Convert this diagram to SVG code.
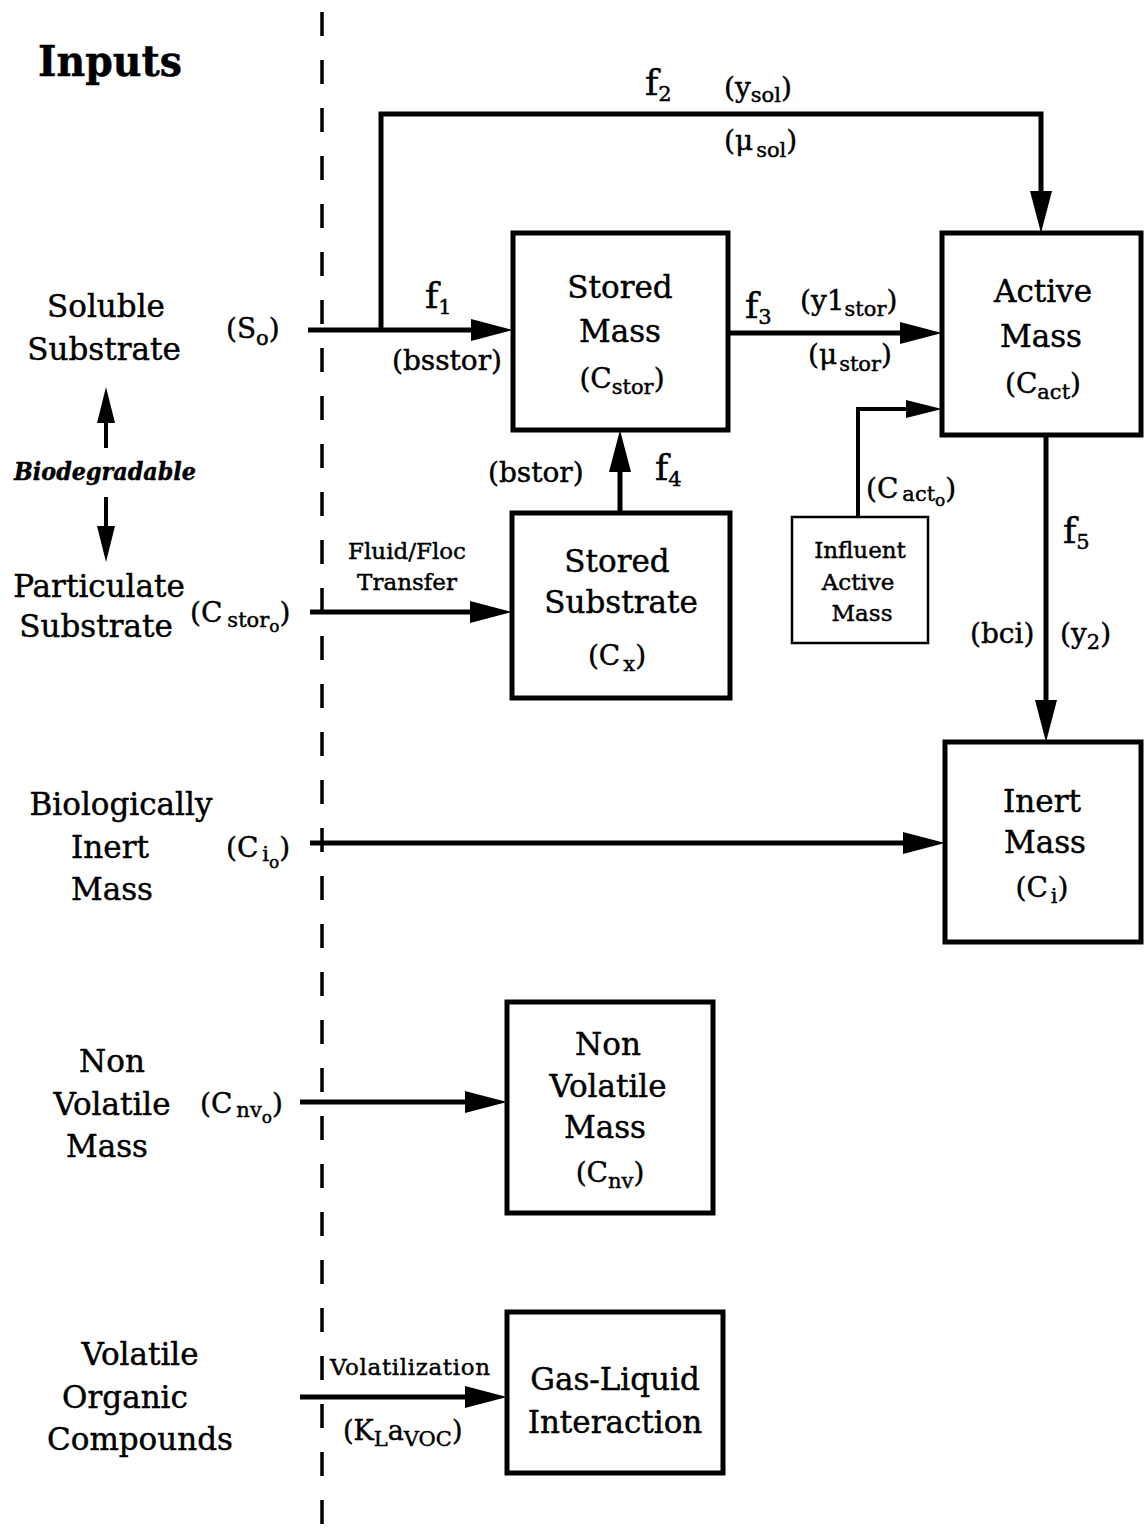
<svg xmlns="http://www.w3.org/2000/svg" width="1144" height="1528" viewBox="0 0 1144 1528">
<style>
.t{font-family:"DejaVu Serif","Liberation Serif",serif;fill:#000;stroke:#000;stroke-width:0.45}
.big{font-size:31px}
.lbl{font-size:28px}
.sm{font-size:23px}
.f{font-size:36px}
.sub{font-size:21px}
.ss{font-size:17px}
.c{text-anchor:middle}
.box{fill:#fff;stroke:#000;stroke-width:5}
.thin{fill:#fff;stroke:#000;stroke-width:2.5}
.ln{fill:none;stroke:#000;stroke-width:5}
.ln4{fill:none;stroke:#000;stroke-width:4}
</style>
<defs>
<marker id="ah" markerUnits="userSpaceOnUse" viewBox="0 0 42 22" refX="27" refY="11" markerWidth="42" markerHeight="22" orient="auto"><path d="M0,0 L42,11 L0,22 z" fill="#000"/></marker>
<marker id="ahs" markerUnits="userSpaceOnUse" viewBox="0 0 36 18" refX="24" refY="9" markerWidth="36" markerHeight="18" orient="auto"><path d="M0,0 L36,9 L0,18 z" fill="#000"/></marker>
</defs>
<rect width="1144" height="1528" fill="#fff"/>

<line x1="322" y1="12" x2="322" y2="1528" stroke="#000" stroke-width="3.5" stroke-dasharray="24 24"/>

<g id="connectors">
<path class="ln" d="M308,330 H498" marker-end="url(#ah)"/>
<path class="ln" d="M381,330 V114 H1041 V218" marker-end="url(#ah)"/>
<path class="ln" d="M728,333 H927" marker-end="url(#ah)"/>
<path class="ln4" d="M858,517 V409 H930" marker-end="url(#ahs)"/>
<path class="ln" d="M620,513 V445" marker-end="url(#ah)"/>
<path class="ln" d="M310,612 H497" marker-end="url(#ah)"/>
<path class="ln" d="M1046,435 V727" marker-end="url(#ah)"/>
<path class="ln" d="M310,843 H930" marker-end="url(#ah)"/>
<path class="ln" d="M300,1102 H492" marker-end="url(#ah)"/>
<path class="ln" d="M300,1397 H492" marker-end="url(#ah)"/>
<path class="ln4" d="M106,448 V399" marker-end="url(#ahs)"/>
<path class="ln4" d="M106,497 V550" marker-end="url(#ahs)"/>
</g>

<g id="labels">
<text class="t" x="38" y="76" font-size="42" font-weight="bold" textLength="144" lengthAdjust="spacingAndGlyphs">Inputs</text>
<text class="t big c" x="106" y="317">Soluble</text>
<text class="t big c" x="104" y="360">Substrate</text>
<text class="t" x="14" y="480" font-size="25" font-style="italic" font-weight="bold" textLength="182" lengthAdjust="spacingAndGlyphs">Biodegradable</text>
<text class="t big c" x="99" y="597">Particulate</text>
<text class="t big c" x="96" y="637">Substrate</text>
<text class="t big c" x="121" y="815">Biologically</text>
<text class="t big c" x="110" y="858">Inert</text>
<text class="t big c" x="112" y="900">Mass</text>
<text class="t big c" x="112" y="1072">Non</text>
<text class="t big c" x="112" y="1115">Volatile</text>
<text class="t big c" x="107" y="1157">Mass</text>
<text class="t big c" x="140" y="1365">Volatile</text>
<text class="t big c" x="125" y="1408">Organic</text>
<text class="t big c" x="140" y="1450">Compounds</text>

<text class="t lbl" x="226" y="338">(S<tspan class="sub" dy="7">o</tspan><tspan dy="-7">)</tspan></text>
<text class="t lbl" x="190" y="622">(C<tspan class="sub" dx="5" dy="5">stor</tspan><tspan class="ss" dy="5">o</tspan><tspan dy="-10">)</tspan></text>
<text class="t lbl" x="226" y="857">(C<tspan class="sub" dx="4" dy="4">i</tspan><tspan class="ss" dy="7">o</tspan><tspan dy="-11">)</tspan></text>
<text class="t lbl" x="200" y="1113">(C<tspan class="sub" dx="4" dy="4">nv</tspan><tspan class="ss" dy="6">o</tspan><tspan dy="-10">)</tspan></text>
<text class="t sm c" x="407" y="559">Fluid/Floc</text>
<text class="t sm c" x="407" y="590">Transfer</text>
<text class="t sm" x="330" y="1375" textLength="160">Volatilization</text>
<text class="t" x="343" y="1440" font-size="27">(K<tspan class="sub" dy="6">L</tspan><tspan dy="-6">a</tspan><tspan class="sub" dy="6">VOC</tspan><tspan dy="-6">)</tspan></text>

<text class="t f" x="425" y="308">f<tspan class="sub" dy="6">1</tspan></text>
<text class="t lbl" x="392" y="370">(bsstor)</text>
<text class="t f" x="645" y="95">f<tspan class="sub" dy="6">2</tspan></text>
<text class="t lbl" x="724" y="97">(y<tspan class="sub" dy="5">sol</tspan><tspan dy="-5">)</tspan></text>
<text class="t lbl" x="724" y="150">(μ<tspan class="sub" dx="3" dy="7">sol</tspan><tspan dy="-7">)</tspan></text>
<text class="t f" x="745" y="318">f<tspan class="sub" dy="6">3</tspan></text>
<text class="t lbl" x="800" y="310">(y1<tspan class="sub" dy="6">stor</tspan><tspan dy="-6">)</tspan></text>
<text class="t lbl" x="808" y="364">(μ<tspan class="sub" dx="2" dy="7">stor</tspan><tspan dy="-7">)</tspan></text>
<text class="t lbl" x="488" y="482">(bstor)</text>
<text class="t f" x="655" y="480">f<tspan class="sub" dy="6">4</tspan></text>
<text class="t lbl" x="866" y="498">(C<tspan class="sub" dx="4" dy="3">act</tspan><tspan class="ss" dy="5">o</tspan><tspan dy="-8">)</tspan></text>
<text class="t f" x="1063" y="543">f<tspan class="sub" dy="6">5</tspan></text>
<text class="t lbl" x="970" y="643">(bci)</text>
<text class="t lbl" x="1060" y="643">(y<tspan class="sub" dy="6">2</tspan><tspan dy="-6">)</tspan></text>
</g>

<g id="stored-mass">
<rect class="box" x="513" y="233" width="215" height="197"/>
<text class="t big c" x="620" y="298">Stored</text>
<text class="t big c" x="620" y="342">Mass</text>
<text class="t lbl c" x="622" y="388">(C<tspan class="sub" dy="6">stor</tspan><tspan dy="-6">)</tspan></text>
</g>

<g id="active-mass">
<rect class="box" x="942" y="233" width="199" height="202"/>
<text class="t big c" x="1043" y="302">Active</text>
<text class="t big c" x="1041" y="347">Mass</text>
<text class="t lbl c" x="1043" y="393">(C<tspan class="sub" dy="6">act</tspan><tspan dy="-6">)</tspan></text>
</g>

<g id="stored-substrate">
<rect class="box" x="512" y="513" width="218" height="185"/>
<text class="t big c" x="617" y="572">Stored</text>
<text class="t big c" x="621" y="613">Substrate</text>
<text class="t lbl c" x="617" y="665">(C<tspan class="sub" dx="3" dy="6">x</tspan><tspan dy="-6">)</tspan></text>
</g>

<g id="influent-active-mass">
<rect class="thin" x="792" y="517" width="136" height="126"/>
<text class="t sm c" x="860" y="558">Influent</text>
<text class="t sm c" x="858" y="590">Active</text>
<text class="t sm c" x="862" y="621">Mass</text>
</g>

<g id="inert-mass">
<rect class="box" x="945" y="742" width="196" height="200"/>
<text class="t big c" x="1042" y="812">Inert</text>
<text class="t big c" x="1045" y="853">Mass</text>
<text class="t lbl c" x="1042" y="897">(C<tspan class="sub" dx="3" dy="6">i</tspan><tspan dy="-6">)</tspan></text>
</g>

<g id="non-volatile-mass">
<rect class="box" x="507" y="1002" width="206" height="211"/>
<text class="t big c" x="608" y="1055">Non</text>
<text class="t big c" x="608" y="1097">Volatile</text>
<text class="t big c" x="605" y="1138">Mass</text>
<text class="t lbl c" x="610" y="1182">(C<tspan class="sub" dy="6">nv</tspan><tspan dy="-6">)</tspan></text>
</g>

<g id="gas-liquid">
<rect class="box" x="507" y="1312" width="216" height="161"/>
<text class="t big c" x="615" y="1390">Gas-Liquid</text>
<text class="t big c" x="615" y="1433">Interaction</text>
</g>
</svg>
